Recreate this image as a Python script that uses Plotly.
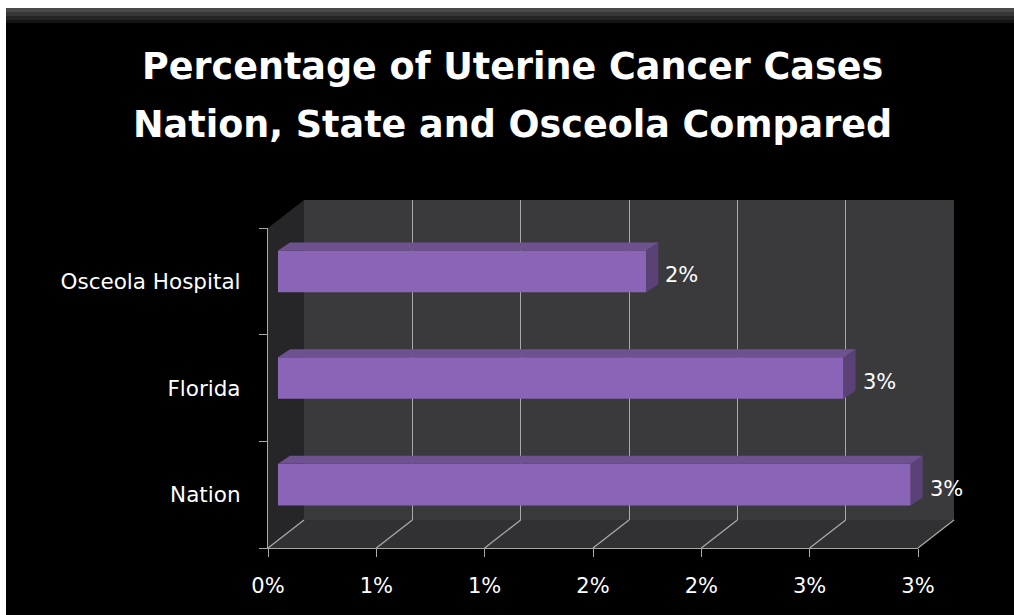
import plotly.graph_objects as go

# ---------------- data ----------------
categories = ["Nation", "Florida", "Osceola Hospital"]   # bottom -> top
values = [2.92, 2.61, 1.70]                              # percent
value_labels = ["3%", "3%", "2%"]
tick_vals = [0, 0.5, 1.0, 1.5, 2.0, 2.5, 3.0]
tick_text = ["0%", "1%", "1%", "2%", "2%", "3%", "3%"]
title_lines = ["Percentage of Uterine Cancer Cases",
               "Nation, State and Osceola Compared"]

# ---------------- geometry (pixels) ----------------
W, H = 1014, 615
FX0, FX1 = 268, 918      # front plane x-extent (0% .. 3%)
FY0, FY1 = 228, 548      # front plane y-extent (top .. bottom)
DEPTH_X, DEPTH_Y = 36, -28   # oblique offset to back wall
BAR_X, BAR_Y = 10, -10       # offset of bar front faces
XMAX = 3.0
BAR_W = 0.39
TOP_DX = 12 * XMAX / (FX1 - FX0)    # bar depth in data units
TOP_DY = 8 * 3.0 / (FY1 - FY0)
TITLE_Y = [67, 124]


def fx(px):
    return px / W


def fy(py):
    return 1 - py / H


def dom_x(off):
    return [fx(FX0 + off), fx(FX1 + off)]


def dom_y(off):
    return [fy(FY1 + off), fy(FY0 + off)]


BG = "#000000"
WALL = "#3a3a3c"
LWALL = "#262628"
FLOOR = "#313133"
GRID = "#a9a9a9"
BAR_FRONT = "#8a64b6"
BAR_TOP = "#6e5290"
BAR_SIDE = "#5a4276"
FONT = "DejaVu Sans"

fig = go.Figure()

# bar side / top faces (parallelograms built from the data)
top_x, top_y, side_x, side_y = [], [], [], []
for i, v in enumerate(values):
    yt = i + BAR_W / 2
    yb = i - BAR_W / 2
    top_x += [0, v, v + TOP_DX, TOP_DX, 0, None]
    top_y += [yt, yt, yt + TOP_DY, yt + TOP_DY, yt, None]
    side_x += [v, v + TOP_DX, v + TOP_DX, v, v, None]
    side_y += [yb, yb + TOP_DY, yt + TOP_DY, yt, yb, None]

fig.add_trace(go.Scatter(x=side_x, y=side_y, fill="toself", mode="lines",
                         line=dict(width=0), fillcolor=BAR_SIDE,
                         xaxis="x3", yaxis="y3", hoverinfo="skip",
                         showlegend=False))
fig.add_trace(go.Scatter(x=top_x, y=top_y, fill="toself", mode="lines",
                         line=dict(width=0), fillcolor=BAR_TOP,
                         xaxis="x3", yaxis="y3", hoverinfo="skip",
                         showlegend=False))
fig.add_trace(go.Bar(x=values, y=list(range(len(categories))), orientation="h",
                     width=BAR_W, marker=dict(color=BAR_FRONT,
                                              line=dict(width=0)),
                     xaxis="x3", yaxis="y3", showlegend=False))

# invisible trace to register front category axis
fig.add_trace(go.Scatter(x=[None] * len(categories), y=categories,
                         mode="markers", xaxis="x", yaxis="y",
                         showlegend=False, hoverinfo="skip"))
# back wall axis placeholder
fig.add_trace(go.Scatter(x=[None], y=[None], xaxis="x2", yaxis="y2",
                         showlegend=False, hoverinfo="skip"))

shapes = []
# frame strips
shapes.append(dict(type="rect", xref="paper", yref="paper", x0=0, x1=fx(6),
                   y0=0, y1=1, fillcolor="white", line=dict(width=0),
                   layer="below"))
shapes.append(dict(type="rect", xref="paper", yref="paper", x0=0, x1=1,
                   y0=fy(8), y1=1, fillcolor="white", line=dict(width=0),
                   layer="below"))
for (a, b, c) in [(8, 12, "#4a4a4a"), (12, 16, "#363636"),
                  (16, 20, "#242424"), (20, 23, "#141414")]:
    shapes.append(dict(type="rect", xref="paper", yref="paper", x0=fx(6),
                       x1=1, y0=fy(b), y1=fy(a), fillcolor=c,
                       line=dict(width=0), layer="below"))

# back wall
bx0, bx1 = FX0 + DEPTH_X, FX1 + DEPTH_X
by0, by1 = FY0 + DEPTH_Y, FY1 + DEPTH_Y
shapes.append(dict(type="rect", xref="paper", yref="paper",
                   x0=fx(bx0), x1=fx(bx1), y0=fy(by1), y1=fy(by0),
                   fillcolor=WALL, line=dict(width=0), layer="below"))
# left wall
shapes.append(dict(type="path", xref="paper", yref="paper",
                   path=f"M {fx(FX0)} {fy(FY0)} L {fx(bx0)} {fy(by0)} "
                        f"L {fx(bx0)} {fy(by1)} L {fx(FX0)} {fy(FY1)} Z",
                   fillcolor=LWALL, line=dict(width=0), layer="below"))
# floor
shapes.append(dict(type="path", xref="paper", yref="paper",
                   path=f"M {fx(FX0)} {fy(FY1)} L {fx(FX1)} {fy(FY1)} "
                        f"L {fx(bx1)} {fy(by1)} L {fx(bx0)} {fy(by1)} Z",
                   fillcolor=FLOOR, line=dict(width=0), layer="below"))
# floor grid lines (diagonals from each tick)
for tv in tick_vals:
    px = FX0 + tv / XMAX * (FX1 - FX0)
    shapes.append(dict(type="line", xref="paper", yref="paper",
                       x0=fx(px), y0=fy(FY1), x1=fx(px + DEPTH_X),
                       y1=fy(FY1 + DEPTH_Y),
                       line=dict(color=GRID, width=1.3), layer="below"))

annotations = []
# title lines as annotations (for the wide line spacing)
for line, ty in zip(title_lines, TITLE_Y):
    annotations.append(dict(text=f"<b>{line}</b>", xref="paper",
                            yref="paper", x=0.505, y=fy(ty),
                            xanchor="center", yanchor="middle",
                            showarrow=False,
                            font=dict(family=FONT, size=36.5,
                                      color="white")))
# data labels, anchored at the end of each bar's side face
for i, (v, lab) in enumerate(zip(values, value_labels)):
    annotations.append(dict(text=lab, xref="x3", yref="y3", x=v + TOP_DX,
                            y=i, xanchor="left", yanchor="middle",
                            xshift=5, yshift=-4, showarrow=False,
                            font=dict(family=FONT, size=21, color="white")))

axis_common = dict(showgrid=False, zeroline=False, fixedrange=True)

fig.update_layout(
    width=W, height=H,
    margin=dict(l=0, r=0, t=0, b=0, autoexpand=False),
    paper_bgcolor=BG, plot_bgcolor="rgba(0,0,0,0)",
    font=dict(family=FONT, color="white"),
    showlegend=False,
    shapes=shapes,
    annotations=annotations,
    xaxis=dict(domain=dom_x(0), range=[0, XMAX], tickvals=tick_vals,
               ticktext=tick_text, ticks="outside", ticklen=8,
               tickcolor=GRID, tickwidth=1.3, showline=True,
               linecolor=GRID, linewidth=1.3, anchor="y",
               tickfont=dict(size=21, color="white", family=FONT),
               ticklabelstandoff=11, automargin=False, **axis_common),
    yaxis=dict(domain=dom_y(0), type="category",
               categoryorder="array", categoryarray=categories,
               range=[-0.5, len(categories) - 0.5], tickson="boundaries",
               ticks="outside", ticklen=8, tickcolor=GRID, tickwidth=1.3,
               showline=True, linecolor=GRID, linewidth=1.3, anchor="x",
               tickfont=dict(size=21.5, color="white", family=FONT),
               ticklabelstandoff=22, automargin=False, **axis_common),
    xaxis2=dict(domain=dom_x(DEPTH_X), range=[0, XMAX], anchor="y2",
                showgrid=True, gridcolor=GRID, gridwidth=1.3,
                tickvals=tick_vals, showticklabels=False, zeroline=False,
                fixedrange=True, showline=False),
    yaxis2=dict(domain=dom_y(DEPTH_Y), range=[-0.5, len(categories) - 0.5],
                anchor="x2", showticklabels=False, **axis_common),
    xaxis3=dict(domain=dom_x(BAR_X), range=[0, XMAX], anchor="y3",
                showticklabels=False, **axis_common),
    yaxis3=dict(domain=dom_y(BAR_Y), range=[-0.5, len(categories) - 0.5],
                anchor="x3", showticklabels=False, **axis_common),
)

fig.write_html(
    "out.html",
    config={"displayModeBar": False},
    post_script="document.body.style.margin='0';"
                "document.body.style.overflow='hidden';",
)
